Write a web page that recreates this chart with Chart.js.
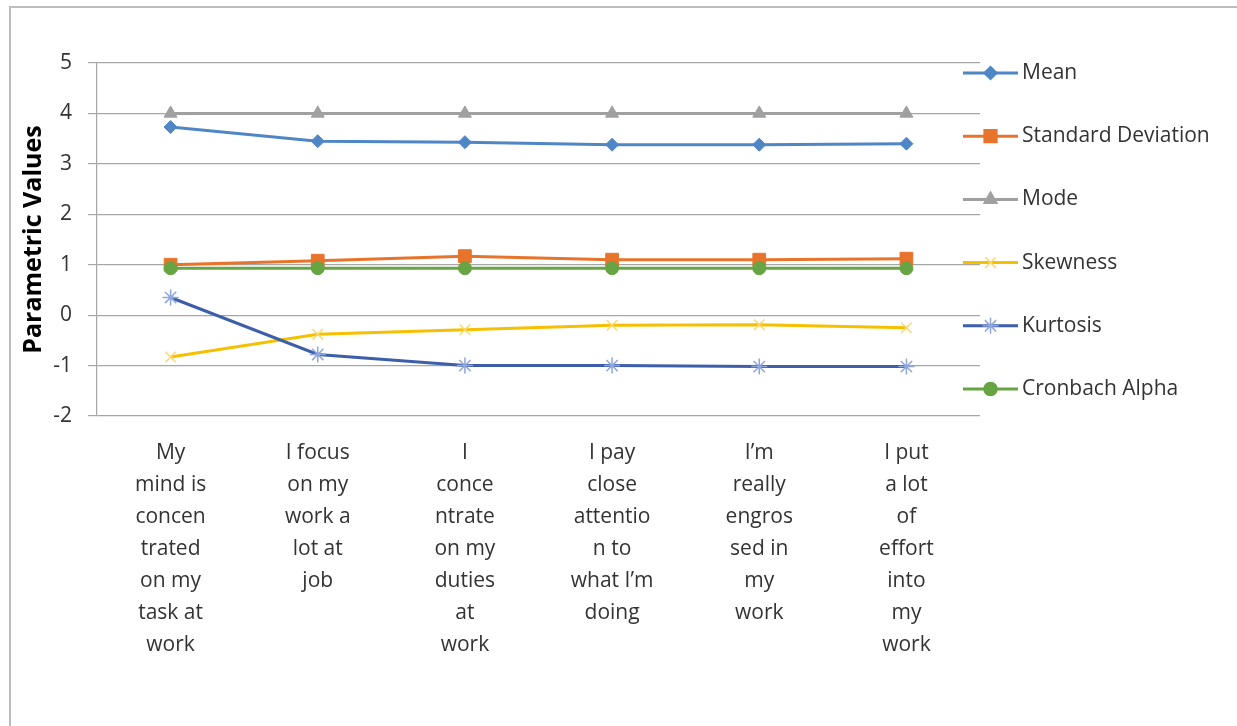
<!DOCTYPE html>
<html>
<head>
<meta charset="utf-8">
<script src="https://cdn.jsdelivr.net/npm/chart.js@4"></script>
<style>
    html, body { margin: 0; padding: 0; background: #ffffff; }
    #wrap { position: relative; width: 1237px; height: 726px; overflow: hidden; }
    #frame { position: absolute; left: 9px; top: 6px; width: 1300px; height: 800px;
             border-top: 2px solid #bdbdbd; border-left: 2px solid #bdbdbd; }
    #chart { position: absolute; left: 0; top: 0; }
</style>
</head>
<body>
<div id="wrap">
    <div id="frame"></div>
    <canvas id="chart" width="1237" height="726"></canvas>
</div>
<script>
var categories = [
    ['My', 'mind is', 'concen', 'trated', 'on my', 'task at', 'work'],
    ['I focus', 'on my', 'work a', 'lot at', 'job'],
    ['I', 'conce', 'ntrate', 'on my', 'duties', 'at', 'work'],
    ['I pay', 'close', 'attentio', 'n to', 'what I\u2019m', 'doing'],
    ['I\u2019m', 'really', 'engros', 'sed in', 'my', 'work'],
    ['I put', 'a lot', 'of', 'effort', 'into', 'my', 'work']
];

var seriesNames = ['Mean', 'Standard Deviation', 'Mode', 'Skewness', 'Kurtosis', 'Cronbach Alpha'];

var meanValues = [3.73, 3.45, 3.43, 3.38, 3.38, 3.40];
var sdValues = [1.00, 1.08, 1.17, 1.10, 1.10, 1.12];
var modeValues = [4, 4, 4, 4, 4, 4];
var skewValues = [-0.83, -0.38, -0.29, -0.20, -0.19, -0.25];
var kurtValues = [0.35, -0.78, -1.00, -1.00, -1.02, -1.02];
var alphaValues = [0.93, 0.93, 0.93, 0.93, 0.93, 0.93];

var yMin = -2;
var yMax = 5;

var FONT = '"Open Sans", "Noto Sans", sans-serif';

// line colour, marker fill, marker stroke, point style, radius
var looks = [
    { line: '#4f86c6', fill: '#4f86c6', stroke: '#4f86c6', style: 'rectRot', r: 6.5 },
    { line: '#e8742c', fill: '#e8742c', stroke: '#e8742c', style: 'rect', r: 9 },
    { line: '#a0a0a0', fill: '#a0a0a0', stroke: '#a0a0a0', style: 'triangle', r: 7.5 },
    { line: '#f5c000', fill: '#f5c000', stroke: '#fbd970', style: 'crossRot', r: 7.5 },
    { line: '#3d5ea8', fill: '#3d5ea8', stroke: '#8ea6de', style: 'star', r: 8 },
    { line: '#67a443', fill: '#67a443', stroke: '#67a443', style: 'circle', r: 6.5 }
];

var allValues = [meanValues, sdValues, modeValues, skewValues, kurtValues, alphaValues];

var datasets = [];
for (var i = 0; i < seriesNames.length; i++) {
    datasets.push({
        label: seriesNames[i],
        data: allValues[i],
        borderColor: looks[i].line,
        backgroundColor: looks[i].fill,
        borderWidth: 3,
        tension: 0,
        pointStyle: looks[i].style,
        pointRadius: looks[i].r,
        pointBackgroundColor: looks[i].fill,
        pointBorderColor: looks[i].stroke,
        pointBorderWidth: (looks[i].style === 'crossRot' || looks[i].style === 'star') ? 1.5 : 1,
        order: seriesNames.length - i
    });
}

// legend drawn beside the plot, overlapping its right edge like the original
var sideLegend = {
    id: 'sideLegend',
    afterDraw: function (chart) {
        var ctx = chart.ctx;
        var x0 = 963, x1 = 1018, top = 73, step = 63.2;
        ctx.save();
        for (var i = 0; i < seriesNames.length; i++) {
            var y = top + i * step;
            ctx.strokeStyle = looks[i].line;
            ctx.lineWidth = 3;
            ctx.beginPath();
            ctx.moveTo(x0, y);
            ctx.lineTo(x1, y);
            ctx.stroke();
            ctx.fillStyle = looks[i].fill;
            ctx.strokeStyle = looks[i].stroke;
            ctx.lineWidth = 1.5;
            Chart.helpers.drawPoint(ctx, { pointStyle: looks[i].style, radius: looks[i].r, rotation: 0, borderWidth: 1.5 }, (x0 + x1) / 2, y);
            ctx.fillStyle = '#333333';
            ctx.font = '21px ' + FONT;
            ctx.textAlign = 'left';
            ctx.textBaseline = 'middle';
            ctx.fillText(seriesNames[i], x1 + 4, y);
        }
        ctx.restore();
    }
};

new Chart(document.getElementById('chart'), {
    type: 'line',
    data: { labels: categories, datasets: datasets },
    plugins: [sideLegend],
    options: {
        responsive: false,
        animation: false,
        devicePixelRatio: 1,
        layout: { padding: { left: 0, top: 63, right: 257, bottom: 0 } },
        plugins: { legend: { display: false }, tooltip: { enabled: false } },
        scales: {
            x: {
                offset: true,
                grid: { display: false },
                border: { display: false },
                ticks: {
                    color: '#333333',
                    padding: 13,
                    maxRotation: 0,
                    autoSkip: false,
                    font: { family: FONT, size: 21, lineHeight: 1.524 }
                },
                afterFit: function (scale) { scale.height = 310; }
            },
            y: {
                min: yMin,
                max: yMax,
                grid: { color: '#a6a6a6', lineWidth: 1.2, tickLength: 9, drawTicks: true },
                border: { display: true, color: '#a6a6a6', width: 1.2 },
                ticks: {
                    stepSize: 1,
                    color: '#333333',
                    padding: 16,
                    font: { family: FONT, size: 21 }
                },
                title: {
                    display: true,
                    text: 'Parametric Values',
                    color: '#000000',
                    padding: { top: 19, bottom: 0 },
                    font: { family: FONT, size: 25, weight: 'bold' }
                },
                afterFit: function (scale) { scale.width = 97; }
            }
        }
    }
});
</script>
</body>
</html>
